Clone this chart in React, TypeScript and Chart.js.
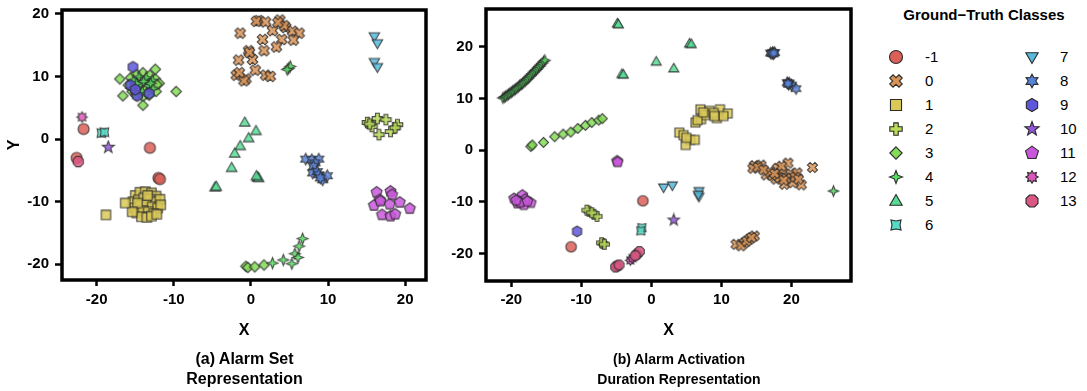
import React, { useEffect, useRef } from "react";
import { Chart, registerables } from "chart.js";
Chart.register(...registerables);

const FONT = '"Liberation Sans", Arial, Helvetica, sans-serif';

const classLabels = ["-1", "0", "1", "2", "3", "4", "5", "6", "7", "8", "9", "10", "11", "12", "13"];
const classColors = [
  "#db5f57", "#db9457", "#dbc957", "#b9db57", "#84db57", "#57db5f", "#57db94", "#57dbc8",
  "#57b9db", "#5784db", "#5f57db", "#9457db", "#c957db", "#db57b9", "#db5784",
];
const classShapes = [
  "circle", "xfill", "square", "plusfill", "diamond", "star4", "triUp", "concaveSquare",
  "triDown", "star6", "hexagon", "star5", "pentagon", "star8", "octagon",
];

const axisTicks = [-20, -10, 0, 10, 20];

// ---------- (a) Alarm Set Representation ----------
const aClassM1 = [[-21.7, 1.6], [-13.1, -1.4], [-12.0, -6.2], [-11.8, -6.4], [-22.6, -3.0]];
const aClass0 = [
  [1.0, 18.9], [0.7, 18.8], [1.9, 18.7], [3.75, 19.0], [2.8, 17.3], [4.5, 17.8], [4.3, 18.1],
  [5.4, 17.2], [6.25, 16.9], [-1.4, 16.9], [1.5, 15.9], [4.0, 15.9], [5.5, 15.8], [3.3, 14.7],
  [1.7, 14.1], [-0.3, 14.1], [-1.6, 12.6], [0.2, 12.7], [0.56, 11.0], [-1.9, 10.2], [-0.65, 9.6],
  [-0.9, 9.3], [1.9, 10.2], [2.5, 10.0], [-1.5, 10.6], [-0.2, 13.8], [3.5, 18.6],
];
const aClass1 = [
  [-15.0, -9.0], [-14.4, -8.5], [-13.7, -8.4], [-12.9, -8.6], [-12.3, -9.1], [-15.3, -10.0],
  [-14.6, -9.7], [-13.9, -9.4], [-13.1, -9.6], [-12.4, -10.0], [-11.8, -9.6], [-15.1, -11.0],
  [-14.3, -10.6], [-13.6, -10.4], [-12.8, -10.8], [-12.1, -11.0], [-11.7, -10.5], [-14.8, -11.8],
  [-14.0, -11.4], [-13.3, -11.6], [-12.6, -11.9], [-14.2, -12.4], [-13.5, -12.5], [-12.9, -12.3],
  [-14.7, -10.2], [-13.4, -9.0], [-12.2, -12.0], [-15.4, -11.6],
  [-16.3, -10.2], [-18.8, -12.1],
];
const aClass2 = [[15.1, 2.65], [15.7, 2.0], [16.4, 3.3], [17.5, 3.1], [16.6, 0.7], [18.1, 1.2], [19.0, 2.3], [18.7, 1.8], [15.4, 2.4]];
const aClass3 = [
  [-15.6, 9.8], [-14.9, 10.4], [-14.0, 10.6], [-13.1, 10.2], [-12.4, 9.6], [-15.9, 8.6], [-15.0, 9.0],
  [-14.2, 9.4], [-13.4, 9.1], [-12.6, 8.7], [-11.9, 8.9], [-15.4, 7.6], [-14.6, 8.1], [-13.8, 8.2],
  [-13.0, 7.8], [-12.3, 7.6], [-14.9, 7.0], [-14.0, 6.8], [-13.2, 7.0],
  [-17.0, 9.6], [-12.4, 11.15], [-16.6, 6.9], [-14.0, 5.4], [-9.7, 7.6], [-12.2, 8.7],
  [-0.65, -20.3], [-0.4, -20.5], [0.5, -20.4], [1.7, -20.1],
];
const aClass4 = [
  [-15.2, 9.4], [-14.5, 9.9], [-13.6, 9.8], [-12.8, 9.4], [-14.3, 8.7], [-13.3, 8.5], [-15.5, 8.1],
  [-12.7, 8.1], [-14.1, 7.6], [-13.5, 7.3], [-14.8, 8.9], [-13.9, 9.2], [-13.0, 8.9],
  [4.9, 11.3], [5.1, 11.6], [4.7, 11.1],
  [2.8, -19.8], [4.2, -19.3], [5.3, -19.9], [5.7, -18.3], [6.1, -18.9], [6.25, -17.1], [6.7, -15.9],
];
const aClass5 = [[-0.8, 2.65], [0.65, 1.3], [-0.3, 0.15], [-1.4, -1.1], [-2.1, -2.3], [-2.5, -4.6], [0.85, -6.1], [1.0, -6.2], [0.7, -5.9], [-4.65, -7.7], [-4.5, -7.6]];
const aClass6 = [[-19.4, 0.95], [-19.0, 1.1]];
const aClass7 = [[16.0, 16.4], [16.4, 15.3], [16.0, 12.3], [16.4, 11.5]];
const aClass8 = [[7.1, -3.2], [7.9, -3.3], [8.8, -3.2], [8.3, -3.8], [8.1, -4.4], [8.0, -5.4], [8.6, -5.2], [8.8, -5.7], [9.3, -6.5], [9.9, -5.85], [9.0, -6.2]];
const aClass9 = [[-15.3, 11.5], [-15.6, 8.6], [-14.75, 6.9], [-13.2, 7.3], [-15.0, 7.9]];
const aClass10 = [[-18.5, -1.3]];
const aClass11 = [
  [16.3, -8.5], [18.1, -8.35], [18.3, -8.9], [16.7, -9.7], [15.95, -10.6], [18.0, -10.4], [19.3, -10.1],
  [20.6, -11.1], [17.0, -12.1], [18.1, -12.3], [18.7, -12.0], [16.8, -9.9],
];
const aClass12 = [[-21.9, 3.5]];
const aClass13 = [[-22.4, -3.6]];

// ---------- (b) Alarm Activation Duration Representation ----------
const bClassM1 = [[-1.2, -9.8], [-11.45, -18.7]];
const bClass0 = [
  [14.7, -3.0], [15.65, -2.9], [16.4, -4.8], [18.0, -3.5], [19.5, -2.5], [18.8, -4.4], [19.9, -4.6],
  [20.8, -4.4], [17.8, -5.6], [19.0, -6.6], [21.4, -6.7], [20.2, -6.3], [23.0, -3.35], [14.5, -3.5],
  [17.3, -4.9], [18.3, -5.3], [15.2, -3.3], [16.9, -4.2], [18.6, -3.1], [19.3, -5.4], [20.5, -5.2],
  [17.6, -4.5], [18.9, -5.8], [21.0, -5.6], [16.0, -3.8],
  [12.1, -18.2], [13.3, -17.9], [14.0, -17.2], [14.7, -16.6], [12.8, -18.5], [13.6, -17.6], [14.3, -16.9],
];
const bClass1 = [
  [7.0, 7.9], [8.3, 7.6], [9.8, 7.9], [10.9, 7.1], [9.35, 6.2], [6.3, 5.35], [7.1, 6.0], [7.7, 6.8], [8.9, 7.2],
  [6.6, 5.8], [7.4, 7.3], [10.3, 6.6], [9.0, 6.6],
  [4.0, 3.4], [4.6, 2.9], [5.55, 2.0], [6.2, 2.0], [4.9, 1.0], [5.0, 2.4],
];
const bClass2 = [[-8.9, -11.8], [-9.2, -11.6], [-8.2, -12.4], [-7.75, -12.8], [-8.5, -12.1], [-6.9, -18.05], [-7.1, -17.9], [-6.7, -18.2]];
const bClass3 = [[-17.2, 0.7], [-17.0, 1.0], [-15.4, 1.5], [-13.8, 2.6], [-12.6, 3.1], [-11.5, 3.5], [-10.5, 4.2], [-9.4, 4.8], [-8.5, 5.35], [-7.5, 5.8], [-7.0, 6.1]];
const bClass4 = [
  [-21.2, 10.1], [-21.0, 10.25], [-20.8, 10.4], [-20.6, 10.6], [-20.4, 10.8], [-20.2, 11.0], [-20.0, 11.2],
  [-19.8, 11.4], [-19.6, 11.6], [-19.4, 11.8], [-19.2, 12.0], [-19.0, 12.25], [-18.8, 12.5], [-18.6, 12.7],
  [-18.4, 12.9], [-18.2, 13.15], [-18.0, 13.4], [-17.8, 13.65], [-17.6, 13.9], [-17.4, 14.2], [-17.2, 14.5],
  [-17.0, 14.8], [-16.8, 15.1], [-16.6, 15.35], [-16.4, 15.6], [-16.2, 15.9], [-16.0, 16.2], [-15.8, 16.5],
  [-15.6, 16.8], [-15.4, 17.1], [-15.2, 17.4], [26.0, -7.9],
];
const bClass5 = [[-4.85, 24.5], [-4.7, 24.3], [5.45, 20.6], [5.7, 20.5], [0.7, 17.1], [3.2, 15.8], [-4.2, 14.7], [-4.0, 14.6]];
const bClass6 = [[-1.35, -15.0], [-1.5, -15.6]];
const bClass7 = [[1.75, -7.2], [3.0, -6.8], [6.8, -7.9], [6.8, -9.0], [6.7, -8.6]];
const bClass8 = [
  [17.0, 18.8], [17.3, 18.9], [17.6, 18.9], [17.4, 18.6], [17.2, 18.7], [17.5, 18.8],
  [19.4, 13.1], [19.7, 13.0], [20.0, 12.6], [19.6, 12.7], [19.5, 12.9], [20.65, 11.9],
];
const bClass9 = [[-10.6, -15.7]];
const bClass10 = [[3.2, -13.5]];
const bClass11 = [
  [-4.9, -2.1], [-4.8, -2.3], [-19.6, -9.35], [-18.4, -8.7], [-17.2, -10.2], [-19.1, -10.3], [-18.2, -10.6],
  [-18.9, -9.9], [-18.0, -9.5], [-18.7, -10.1], [-19.3, -9.7], [-17.7, -9.9],
];
const bClass12 = [[-3.0, -21.3], [-2.7, -20.9]];
const bClass13 = [[-4.9, -22.4], [-5.1, -22.6], [-4.6, -22.2], [-2.05, -20.1], [-1.7, -19.6], [-2.3, -20.4]];

const panelAData = [aClassM1, aClass0, aClass1, aClass2, aClass3, aClass4, aClass5, aClass6, aClass7, aClass8, aClass9, aClass10, aClass11, aClass12, aClass13];
const panelBData = [bClassM1, bClass0, bClass1, bClass2, bClass3, bClass4, bClass5, bClass6, bClass7, bClass8, bClass9, bClass10, bClass11, bClass12, bClass13];

// ---------- marker drawing ----------
function starPath(ctx: CanvasRenderingContext2D, cx: number, cy: number, n: number, ro: number, ri: number, start: number) {
  for (let i = 0; i < 2 * n; i++) {
    const a = start + (i * Math.PI) / n;
    const r = i % 2 === 0 ? ro : ri;
    const px = cx + r * Math.cos(a);
    const py = cy + r * Math.sin(a);
    if (i === 0) ctx.moveTo(px, py);
    else ctx.lineTo(px, py);
  }
}
function polyPath(ctx: CanvasRenderingContext2D, cx: number, cy: number, n: number, r: number, start: number) {
  for (let i = 0; i < n; i++) {
    const a = start + (i * 2 * Math.PI) / n;
    const px = cx + r * Math.cos(a);
    const py = cy + r * Math.sin(a);
    if (i === 0) ctx.moveTo(px, py);
    else ctx.lineTo(px, py);
  }
}
function plusPath(ctx: CanvasRenderingContext2D, cx: number, cy: number, r: number, rot: number) {
  const a = r * 0.36;
  const L = r;
  const pts = [
    [-a, -L], [a, -L], [a, -a], [L, -a], [L, a], [a, a], [a, L], [-a, L], [-a, a], [-L, a], [-L, -a], [-a, -a],
  ];
  const c = Math.cos(rot), s = Math.sin(rot);
  pts.forEach(([x, y], i) => {
    const px = cx + x * c - y * s;
    const py = cy + x * s + y * c;
    if (i === 0) ctx.moveTo(px, py);
    else ctx.lineTo(px, py);
  });
}
function shapePath(ctx: CanvasRenderingContext2D, shape: string, cx: number, cy: number, r: number) {
  ctx.beginPath();
  const up = -Math.PI / 2;
  switch (shape) {
    case "circle": ctx.arc(cx, cy, r, 0, Math.PI * 2); break;
    case "square": { const h = r * 0.85; ctx.rect(cx - h, cy - h, 2 * h, 2 * h); break; }
    case "diamond": polyPath(ctx, cx, cy, 4, r * 0.95, up); break;
    case "triUp": polyPath(ctx, cx, cy + r * 0.1, 3, r * 1.1, up); break;
    case "triDown": polyPath(ctx, cx, cy - r * 0.1, 3, r * 1.1, Math.PI / 2); break;
    case "hexagon": polyPath(ctx, cx, cy, 6, r, up); break;
    case "pentagon": polyPath(ctx, cx, cy, 5, r * 1.05, up); break;
    case "octagon": polyPath(ctx, cx, cy, 8, r, up + Math.PI / 8); break;
    case "star5": starPath(ctx, cx, cy, 5, r * 1.15, r * 0.48, up); break;
    case "star6": starPath(ctx, cx, cy, 6, r * 1.05, r * 0.58, up); break;
    case "star8": starPath(ctx, cx, cy, 8, r * 0.95, r * 0.6, up); break;
    case "star4": starPath(ctx, cx, cy, 4, r * 1.0, r * 0.4, up); break;
    case "concaveSquare": starPath(ctx, cx, cy, 4, r * 1.1, r * 0.62, -Math.PI / 4); break;
    case "plusfill": plusPath(ctx, cx, cy, r * 0.95, 0); break;
    case "xfill": plusPath(ctx, cx, cy, r * 1.0, Math.PI / 4); break;
  }
  ctx.closePath();
}
function drawMarker(ctx: CanvasRenderingContext2D, shape: string, color: string, cx: number, cy: number, r: number, alpha: number) {
  ctx.save();
  ctx.globalAlpha = alpha;
  shapePath(ctx, shape, cx, cy, r);
  ctx.fillStyle = color;
  ctx.fill();
  ctx.lineWidth = 1.1;
  ctx.strokeStyle = "#2b2b2b";
  ctx.stroke();
  ctx.restore();
}
function makeMarkerImage(shape: string, color: string, size: number) {
  const d = Math.ceil(size + 4);
  const c = document.createElement("canvas");
  c.width = d;
  c.height = d;
  const ctx = c.getContext("2d") as CanvasRenderingContext2D;
  drawMarker(ctx, shape, color, d / 2, d / 2, size / 2, 0.85);
  return c;
}

// ---------- chart plugin: thick frame ----------
const framePlugin = {
  id: "frame",
  afterDraw(chart: any) {
    const { ctx, chartArea } = chart;
    const { left, top, right, bottom } = chartArea;
    ctx.save();
    ctx.lineWidth = 3.5;
    ctx.strokeStyle = "#000";
    ctx.strokeRect(left, top, right - left, bottom - top);
    ctx.restore();
  },
};

type PanelCfg = {
  left: number; width: number; padTop: number; yWidth: number; xHeight: number;
  xMin: number; xMax: number; yMin: number; yMax: number; yTitle: string;
  data: number[][][]; markerSize: number; yTickPad: number; xTickPad: number;
};

function ScatterPanel({ cfg }: { cfg: PanelCfg }) {
  const ref = useRef<HTMLCanvasElement>(null);
  useEffect(() => {
    if (!ref.current) return;
    const datasets = cfg.data.map((pts, i) => ({
      label: classLabels[i],
      data: pts.map(([x, y]) => ({ x, y })),
      pointStyle: makeMarkerImage(classShapes[i], classColors[i], cfg.markerSize) as any,
      pointRadius: 5,
      order: -i,
    }));
    const tickFont = { family: FONT, size: 15, weight: "bold" as const };
    const titleFont = { family: FONT, size: 16, weight: "bold" as const };
    const chart = new Chart(ref.current, {
      type: "scatter",
      data: { datasets },
      options: {
        animation: false,
        responsive: false,
        maintainAspectRatio: false,
        layout: { padding: { left: 0, top: cfg.padTop, right: 5, bottom: 0 } },
        plugins: { legend: { display: false }, tooltip: { enabled: false } },
        scales: {
          x: {
            type: "linear",
            position: "bottom",
            min: cfg.xMin,
            max: cfg.xMax,
            afterBuildTicks: (s: any) => { s.ticks = axisTicks.map((v) => ({ value: v })); },
            afterFit: (s: any) => { s.height = cfg.xHeight; s.paddingLeft = 0; s.paddingRight = 0; },
            grid: { display: true, drawOnChartArea: false, drawTicks: true, tickLength: 6, tickWidth: 2.5, tickColor: "#000" },
            border: { display: false },
            ticks: { font: tickFont, color: "#000", padding: cfg.xTickPad, maxRotation: 0, callback: (v: any) => String(v) },
            title: { display: true, text: "X", font: titleFont, color: "#000", padding: { top: 0, bottom: 51 } },
          },
          y: {
            type: "linear",
            position: "left",
            min: cfg.yMin,
            max: cfg.yMax,
            afterBuildTicks: (s: any) => { s.ticks = axisTicks.map((v) => ({ value: v })); },
            afterFit: (s: any) => { s.width = cfg.yWidth; s.paddingTop = 0; s.paddingBottom = 0; },
            grid: { display: true, drawOnChartArea: false, drawTicks: true, tickLength: 7, tickWidth: 2.5, tickColor: "#000" },
            border: { display: false },
            ticks: { font: tickFont, color: "#000", padding: cfg.yTickPad, callback: (v: any) => String(v) },
            title: { display: cfg.yTitle !== "", text: cfg.yTitle, font: titleFont, color: "#000", padding: { top: 5, bottom: 0 } },
          },
        },
      },
      plugins: [framePlugin],
    } as any);
    return () => chart.destroy();
  }, []);
  return (
    <canvas
      ref={ref}
      width={cfg.width}
      height={391}
      style={{ position: "absolute", left: cfg.left, top: 0, width: cfg.width, height: 391 }}
    />
  );
}

function LegendMarker({ idx, x, y }: { idx: number; x: number; y: number }) {
  const ref = useRef<HTMLCanvasElement>(null);
  useEffect(() => {
    const c = ref.current;
    if (!c) return;
    const ctx = c.getContext("2d") as CanvasRenderingContext2D;
    ctx.clearRect(0, 0, 18, 18);
    drawMarker(ctx, classShapes[idx], classColors[idx], 9, 9, 6.5, 1);
  }, []);
  return <canvas ref={ref} width={18} height={18} style={{ position: "absolute", left: x - 9, top: y - 9, width: 18, height: 18 }} />;
}

const panelA: PanelCfg = {
  left: 0, width: 432, padTop: 10, yWidth: 62, xHeight: 111,
  xMin: -24.5, xMax: 22.7, yMin: -22.5, yMax: 20.6, yTitle: "Y",
  data: panelAData, markerSize: 11, yTickPad: 6, xTickPad: 5,
};
const panelB: PanelCfg = {
  left: 440, width: 417, padTop: 9, yWidth: 46, xHeight: 110,
  xMin: -23.6, xMax: 28.5, yMin: -25.3, yMax: 27.3, yTitle: "",
  data: panelBData, markerSize: 10.5, yTickPad: 6, xTickPad: 4,
};

const legendRowsY = [56.5, 80.5, 104.5, 128.5, 152.5, 176.5, 200.5, 224.5];

export default function App() {
  const subStyle: React.CSSProperties = {
    position: "absolute", top: 349, fontFamily: FONT, fontWeight: "bold", lineHeight: "20px",
    textAlign: "center", color: "#000", width: 300, whiteSpace: "nowrap",
  };
  return (
    <div style={{ position: "fixed", left: 0, top: 0, width: 1087, height: 391, background: "#fff", overflow: "hidden" }}>
      <ScatterPanel cfg={panelA} />
      <ScatterPanel cfg={panelB} />
      <div style={{ ...subStyle, left: 244.5 - 150, fontSize: 16 }}>
        (a) Alarm Set<br />Representation
      </div>
      <div style={{ ...subStyle, left: 679 - 150, fontSize: 14 }}>
        (b) Alarm Activation<br />Duration Representation
      </div>
      <div style={{ position: "absolute", left: 884, top: 5, width: 200, textAlign: "center", fontFamily: FONT, fontWeight: "bold", fontSize: 15, lineHeight: "20px", color: "#000" }}>
        Ground−Truth Classes
      </div>
      {classLabels.map((lab, i) => {
        const col = i < 8 ? 0 : 1;
        const row = i < 8 ? i : i - 8;
        const mx = col === 0 ? 896 : 1032;
        const lx = col === 0 ? 925 : 1060;
        const y = legendRowsY[row];
        return (
          <React.Fragment key={lab}>
            <LegendMarker idx={i} x={mx} y={y} />
            <div style={{ position: "absolute", left: lx, top: y - 10, lineHeight: "20px", fontFamily: FONT, fontSize: 15, color: "#000" }}>
              {lab}
            </div>
          </React.Fragment>
        );
      })}
    </div>
  );
}
